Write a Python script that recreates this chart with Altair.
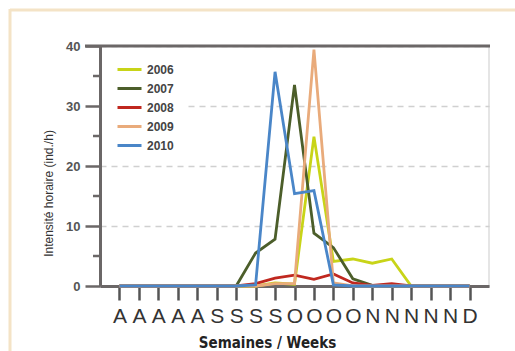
import altair as alt
import pandas as pd

weeks = list(range(19))
week_labels = ["A", "A", "A", "A", "A", "S", "S", "S", "S", "O", "O", "O", "O",
               "N", "N", "N", "N", "N", "D"]
years = ["2006", "2007", "2008", "2009", "2010"]
v2006 = [0, 0, 0, 0, 0, 0, 0, 0, 0.5, 0.3, 24.9, 4.1, 4.5, 3.8, 4.5, 0, 0, 0, 0]
v2007 = [0, 0, 0, 0, 0, 0, 0, 5.5, 7.8, 33.5, 8.8, 6.4, 1.2, 0.1, 0, 0, 0, 0, 0]
v2008 = [0, 0, 0, 0, 0, 0, 0, 0.4, 1.3, 1.8, 1.1, 2.0, 0.5, 0.1, 0.4, 0, 0, 0, 0]
v2009 = [0, 0, 0, 0, 0, 0, 0, 0, 0.4, 0.4, 39.4, 0.5, 0, 0, 0, 0, 0, 0, 0]
v2010 = [0, 0, 0, 0, 0, 0, 0, 0.2, 35.7, 15.4, 15.9, 0.2, 0, 0, 0, 0, 0, 0, 0]
colors = ["#c8d418", "#4c5e2a", "#c0281f", "#e9ab7b", "#4a86c8"]
y_major = [0, 10, 20, 30, 40]
y_minor = [5, 15, 25, 35]

series = [v2006, v2007, v2008, v2009, v2010]
rows = []
for yr, vals in zip(years, series):
    for w, v in zip(weeks, vals):
        rows.append({"week": w, "year": yr, "value": v})
df = pd.DataFrame(rows)

W, H = 389, 240
AX = "#6b6767"

label_expr = "[" + ",".join("'%s'" % s for s in week_labels) + "][datum.value]"

x_enc = alt.X(
    "week:Q",
    scale=alt.Scale(domain=[-1, 19], nice=False, zero=False),
    axis=alt.Axis(
        values=weeks, labelExpr=label_expr, grid=False,
        domainColor=AX, domainWidth=3,
        tickColor="#555555", tickWidth=2.5, tickSize=14,
        labelFontSize=21, labelColor="#333333", labelPadding=5,
        labelFont="Liberation Sans",
        title="Semaines / Weeks", titleFont="DejaVu Sans Condensed",
        titleFontSize=15, titleFontWeight="bold", titleColor="#222222",
        titleX=167, titleY=56, titleBaseline="middle",
    ),
)
y_axis = alt.Axis(
    values=y_major, grid=True, gridDash=[6, 5], gridColor="#d0d0d0",
    gridWidth=1.5, domainColor=AX, domainWidth=3,
    tickColor=AX, tickWidth=2.5, tickSize=15,
    labelFontSize=13, labelFontWeight="bold", labelColor="#555555",
    labelPadding=5,
    title="Intensité horaire (ind./h)", titleFont="Liberation Sans",
    titleFontSize=12,
    titleFontWeight="normal", titleColor="#333333",
    titleX=-52, titleY=147, titleAngle=-90, titleBaseline="middle",
    titleAlign="center",
)
y_scale = alt.Scale(domain=[0, 40], nice=False)


def y_enc():
    return alt.Y("value:Q", scale=y_scale, axis=y_axis)


lines = alt.Chart(df).mark_line(strokeWidth=2.8).encode(
    x=x_enc,
    y=y_enc(),
    color=alt.Color(
        "year:N",
        scale=alt.Scale(domain=years, range=colors),
        legend=alt.Legend(
            title=None, orient="none", legendX=2, legendY=4, padding=10,
            fillColor="white", symbolType="stroke", symbolStrokeWidth=3,
            symbolSize=576, symbolOffset=4, labelFontSize=12,
            labelFontWeight="bold", labelColor="#444444", labelOffset=4,
            rowPadding=0, symbolLimit=0, clipHeight=19,
        ),
    ),
)

minor = alt.Chart(pd.DataFrame({"value": y_minor})).mark_rule(
    color=AX, strokeWidth=2.5
).encode(
    y=y_enc(),
    x=alt.value(-7),
    x2=alt.value(0),
)

top = alt.Chart(pd.DataFrame({"value": [40]})).mark_rule(
    color=AX, strokeWidth=3
).encode(
    y=y_enc(),
    x=alt.value(-15),
    x2=alt.value(W + 1),
)

frame_top = alt.Chart(pd.DataFrame({"v": [0]})).mark_rule(
    color="#f4e3c6", strokeWidth=3
).encode(x=alt.value(-90), x2=alt.value(420), y=alt.value(-36))
frame_left = alt.Chart(pd.DataFrame({"v": [0]})).mark_rule(
    color="#f4e3c6", strokeWidth=3
).encode(x=alt.value(-90), y=alt.value(-37), y2=alt.value(310))

chart = alt.layer(frame_top, frame_left, lines, minor, top).properties(
    width=W, height=H,
    autosize=alt.AutoSizeParams(type="none"),
    padding={"left": 100, "top": 46, "right": 26, "bottom": 65},
    background="white",
).configure(font="Liberation Sans").configure_view(
    stroke="#dddddd", strokeWidth=1.5
)

chart.save("out.html", embed_options={"renderer": "svg", "actions": False})
